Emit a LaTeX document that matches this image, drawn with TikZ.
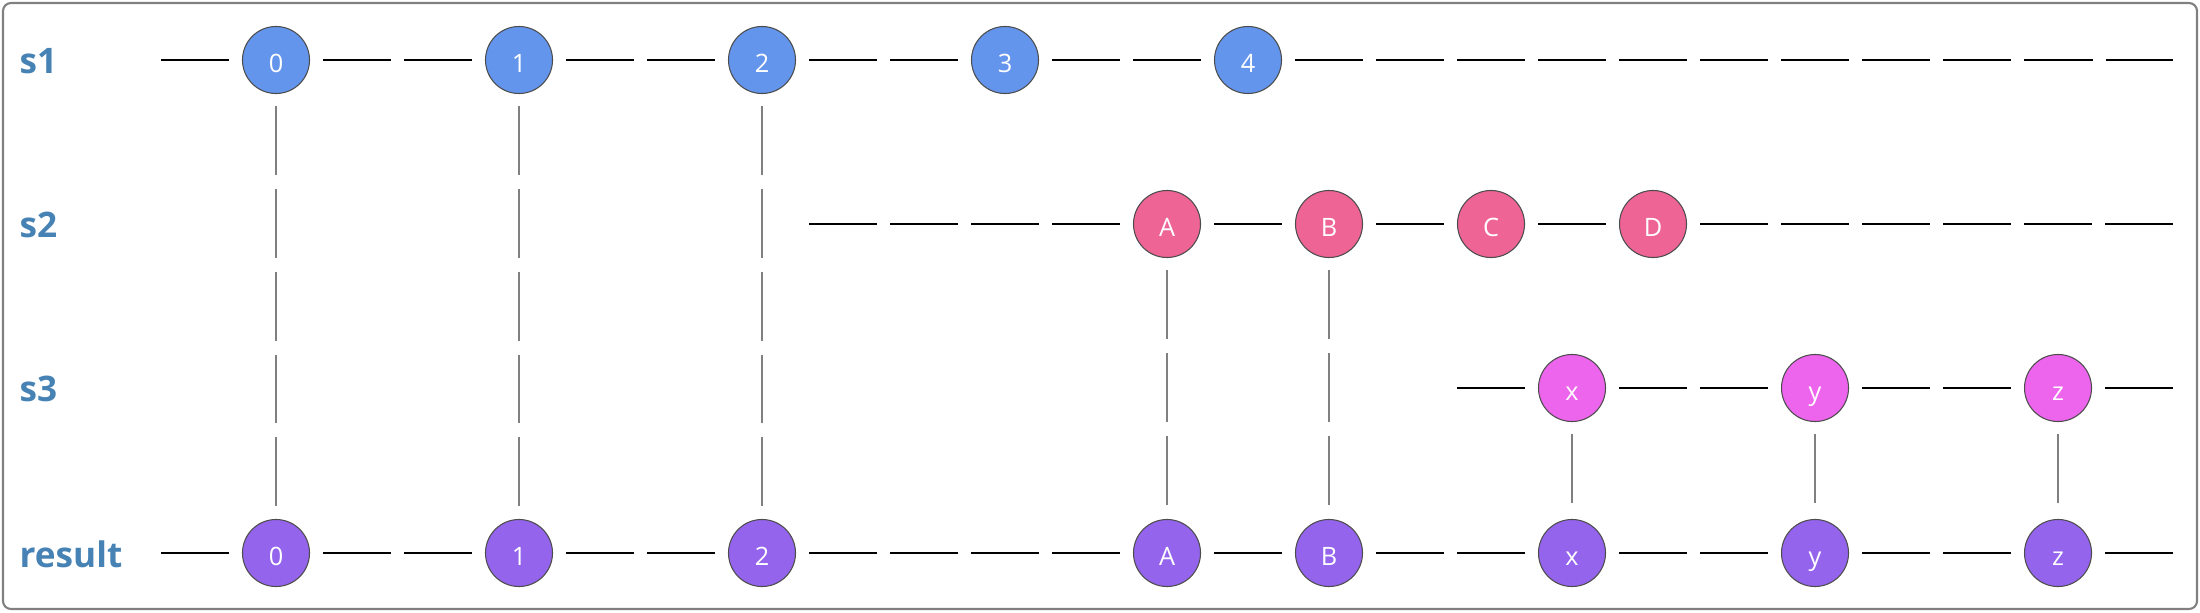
\documentclass[tikz,border=0pt]{standalone}
\usepackage{fontspec}
\setmainfont{Open Sans}
\definecolor{sone}{HTML}{6495ED}
\definecolor{stwo}{HTML}{ED6495}
\definecolor{sthree}{HTML}{ED64ED}
\definecolor{res}{HTML}{9564ED}
\definecolor{lanecol}{HTML}{4682B4}
\begin{document}
\begin{tikzpicture}[x=0.01cm,y=-0.01cm,
    elem/.style={circle,draw=black!70,line width=0.3pt,minimum size=0.67cm,inner sep=0pt,outer sep=0pt,
      text=white,text height=0.72em,text depth=0pt,font=\fontsize{7.2}{8}\selectfont},
    lane/.style={anchor=west,inner sep=0pt,text=lanecol,font=\bfseries\fontsize{10}{12}\selectfont},
    hseg/.style={line width=0.7pt,dash pattern=on 0.68cm off 0.13cm,shorten <=0.135cm,shorten >=0.135cm},
    vseg/.style={black!50,line width=0.8pt,dash pattern=on 0.688cm off 0.14cm,shorten <=0.125cm,shorten >=0.125cm}]
      \useasboundingbox (0,0) rectangle (2200,612);
      \draw[black!50,line width=0.6pt,rounded corners=0.08cm] (3,3) rectangle (2197,609);
      \draw
        (19,61) node[lane] (l1){s1}
        (19,225) node[lane] (l2){s2}
        (19,389) node[lane] (l3){s3}
        (19,554) node[lane] (lr){result};
      \draw
        (276,60) node[elem,fill=sone] (s1-0){0}
        (519,60) node[elem,fill=sone] (s1-1){1}
        (762,60) node[elem,fill=sone] (s1-2){2}
        (1005,60) node[elem,fill=sone] (s1-3){3}
        (1248,60) node[elem,fill=sone] (s1-4){4}
        (1167,224) node[elem,fill=stwo] (s2-A){A}
        (1329,224) node[elem,fill=stwo] (s2-B){B}
        (1491,224) node[elem,fill=stwo] (s2-C){C}
        (1653,224) node[elem,fill=stwo] (s2-D){D}
        (1572,388) node[elem,fill=sthree] (s3-x){x}
        (1815,388) node[elem,fill=sthree] (s3-y){y}
        (2058,388) node[elem,fill=sthree] (s3-z){z}
        (276,553) node[elem,fill=res] (r-0){0}
        (519,553) node[elem,fill=res] (r-1){1}
        (762,553) node[elem,fill=res] (r-2){2}
        (1167,553) node[elem,fill=res] (r-A){A}
        (1329,553) node[elem,fill=res] (r-B){B}
        (1572,553) node[elem,fill=res] (r-x){x}
        (1815,553) node[elem,fill=res] (r-y){y}
        (2058,553) node[elem,fill=res] (r-z){z};
      \coordinate (s1-in) at (161,60);
      \coordinate (s2-in) at (809,224);
      \coordinate (s3-in) at (1457,388);
      \coordinate (r-in) at (161,553);
      \coordinate (s1-out) at (2173,60);
      \coordinate (s2-out) at (2173,224);
      \coordinate (s3-out) at (2173,388);
      \coordinate (r-out) at (2173,553);
      \begin{scope}[hseg]
        \draw[shorten <=0pt] (s1-in) to (s1-0);
        \draw (s1-0) to (s1-1);
        \draw (s1-1) to (s1-2);
        \draw (s1-2) to (s1-3);
        \draw (s1-3) to (s1-4);
        \draw[shorten >=0pt] (s1-4) to (s1-out);
        \draw[shorten <=0pt] (s2-in) to (s2-A);
        \draw (s2-A) to (s2-B);
        \draw (s2-B) to (s2-C);
        \draw (s2-C) to (s2-D);
        \draw[shorten >=0pt] (s2-D) to (s2-out);
        \draw[shorten <=0pt] (s3-in) to (s3-x);
        \draw (s3-x) to (s3-y);
        \draw (s3-y) to (s3-z);
        \draw[shorten >=0pt] (s3-z) to (s3-out);
        \draw[shorten <=0pt] (r-in) to (r-0);
        \draw (r-0) to (r-1);
        \draw (r-1) to (r-2);
        \draw (r-2) to (r-A);
        \draw (r-A) to (r-B);
        \draw (r-B) to (r-x);
        \draw (r-x) to (r-y);
        \draw (r-y) to (r-z);
        \draw[shorten >=0pt] (r-z) to (r-out);
      \end{scope}
      \begin{scope}[vseg]
        \draw (s1-0) to (r-0);
        \draw (s1-1) to (r-1);
        \draw (s1-2) to (r-2);
        \draw (s2-A) to (r-A);
        \draw (s2-B) to (r-B);
        \draw (s3-x) to (r-x);
        \draw (s3-y) to (r-y);
        \draw (s3-z) to (r-z);
      \end{scope}
    \end{tikzpicture}
\end{document}
